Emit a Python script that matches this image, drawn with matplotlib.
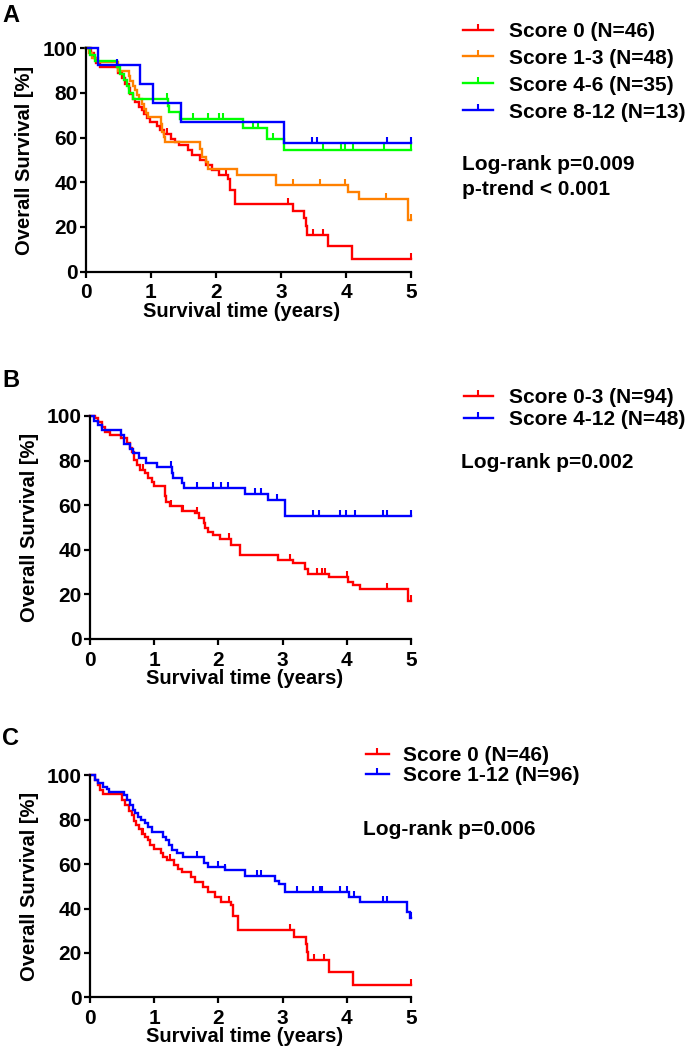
import numpy as np
import matplotlib
matplotlib.use('Agg')
import matplotlib.pyplot as plt
from matplotlib.lines import Line2D

plt.rcParams['font.family'] = ['Liberation Sans', 'DejaVu Sans']
plt.rcParams['font.weight'] = 'bold'

# ---- Kaplan-Meier curves: event times, survival after event, censor times
# Score 0 (N=46), used in A and C
s0_t = [0.08, 0.12, 0.16, 0.21, 0.50, 0.55, 0.60, 0.66, 0.68, 0.72, 0.76, 0.81, 0.86, 0.90,
        0.94, 0.99, 1.10, 1.14, 1.20, 1.31, 1.37, 1.43, 1.57, 1.63, 1.76, 1.84, 1.94, 2.04,
        2.19, 2.22, 2.30, 3.18, 3.36, 3.38, 3.40, 3.72, 4.10]
s0_s = [97.8, 95.7, 93.5, 91.5, 89.0, 86.5, 84.0, 82.0, 79.6, 77.4, 75.9, 73.7, 72.2, 70.7,
        68.8, 67.0, 65.0, 63.3, 61.8, 59.5, 58.0, 56.6, 54.3, 52.1, 49.9, 47.6, 45.4, 43.1,
        41.6, 36.4, 30.2, 27.2, 23.9, 20.3, 16.6, 11.3, 5.7]
s0_c = [0.82, 1.25, 2.16, 3.11, 3.49, 3.64, 5.0]

# Score 1-3 (N=48)
s13_t = [0.05, 0.10, 0.18, 0.49, 0.66, 0.68, 0.72, 0.75, 0.78, 0.82, 0.86, 0.89, 0.92, 0.95,
         1.15, 1.17, 1.20, 1.22, 1.76, 1.78, 1.84, 1.88, 2.32, 2.93, 4.03, 4.20, 4.96]
s13_s = [97.9, 95.8, 93.8, 89.6, 87.5, 85.4, 83.3, 81.3, 79.2, 77.1, 75.0, 72.9, 70.8, 69.0,
         66.0, 62.5, 60.2, 57.9, 54.7, 51.4, 49.1, 46.1, 43.4, 38.7, 35.7, 32.7, 23.0]
s13_c = [3.19, 3.60, 3.98, 4.61, 5.0]

# Score 4-6 (N=35)
s46_t = [0.06, 0.14, 0.48, 0.53, 0.58, 0.63, 0.66, 0.72, 1.26, 1.28, 1.45, 2.42, 2.78, 3.04]
s46_s = [97.1, 94.3, 91.4, 88.6, 85.7, 82.9, 80.0, 77.1, 74.3, 71.4, 68.4, 64.5, 59.3, 54.3]
s46_c = [1.24, 1.64, 1.88, 2.04, 2.11, 2.57, 2.65, 2.88, 3.64, 3.92, 3.98, 4.11, 4.59, 5.0]

# Score 8-12 (N=13)
s812_t = [0.19, 0.83, 1.03, 1.46, 3.04]
s812_s = [92.3, 83.9, 75.5, 67.1, 57.5]
s812_c = [0.47, 3.48, 3.55, 4.63, 5.0]

# Score 0-3 (N=94)
s03_t = [0.08, 0.13, 0.18, 0.23, 0.31, 0.49, 0.57, 0.62, 0.65, 0.69, 0.73, 0.78, 0.86, 0.91,
         0.96, 0.99, 1.17, 1.19, 1.25, 1.43, 1.64, 1.69, 1.77, 1.79, 1.84, 1.92, 2.03, 2.20,
         2.34, 2.93, 3.16, 3.35, 3.39, 3.73, 4.02, 4.10, 4.21, 4.95]
s03_s = [98.9, 97.4, 95.2, 93.0, 91.5, 90.0, 87.7, 85.8, 84.0, 80.3, 78.0, 75.8, 74.3, 72.0,
         70.6, 68.6, 64.0, 61.6, 59.7, 57.5, 56.3, 54.1, 51.9, 49.6, 48.1, 46.6, 44.7, 42.2,
         37.7, 35.3, 34.1, 31.2, 29.2, 27.6, 25.7, 24.2, 22.2, 17.0]
s03_c = [0.82, 1.26, 1.45, 1.66, 2.17, 3.12, 3.53, 3.61, 3.66, 4.00, 4.62, 5.0]

# Score 4-12 (N=48)
s412_t = [0.06, 0.12, 0.18, 0.49, 0.53, 0.62, 0.67, 0.76, 0.87, 1.04, 1.27, 1.29, 1.44, 1.47,
          2.42, 2.78, 3.04]
s412_s = [97.9, 95.8, 93.7, 91.6, 87.4, 85.3, 83.2, 81.1, 79.0, 76.9, 74.6, 72.3, 70.0, 67.6,
          65.0, 62.1, 55.2]
s412_c = [1.26, 1.66, 1.91, 2.04, 2.15, 2.57, 2.66, 2.91, 3.48, 3.57, 3.90, 3.99, 4.13, 4.57,
          4.62, 5.0]

# Score 1-12 (N=96)
s112_t = [0.08, 0.13, 0.21, 0.26, 0.30, 0.535, 0.57, 0.62, 0.675, 0.70, 0.75, 0.80, 0.857,
          0.909, 0.96, 1.14, 1.19, 1.23, 1.28, 1.35, 1.45, 1.77, 1.84, 2.10, 2.41, 2.88, 2.95,
          3.04, 4.04, 4.21, 4.94, 4.99]
s112_s = [97.9, 96.4, 94.9, 93.7, 92.6, 91.1, 88.9, 86.7, 84.4, 82.9, 81.4, 79.9, 78.4, 76.6,
          74.6, 72.4, 70.9, 68.6, 66.4, 64.9, 63.4, 60.4, 58.9, 57.4, 54.6, 52.4, 50.9, 47.3,
          45.4, 43.1, 38.4, 35.5]
s112_c = [1.66, 2.00, 2.10, 2.60, 2.67, 3.23, 3.48, 3.58, 3.62, 3.90, 4.00, 4.11, 4.57, 4.62,
          5.0]

RED, ORANGE, GREEN, BLUE = '#ff0000', '#ff8000', '#00ff00', '#0000ff'

panels = [
    dict(letter='A', rect=[0.1255, 0.742, 0.4745, 0.2122], letter_y=22,
         curves=[('Score 0 (N=46)', s0_t, s0_s, s0_c, RED),
                 ('Score 1-3 (N=48)', s13_t, s13_s, s13_c, ORANGE),
                 ('Score 4-6 (N=35)', s46_t, s46_s, s46_c, GREEN),
                 ('Score 8-12 (N=13)', s812_t, s812_s, s812_c, BLUE)],
         leg=(463, 21.8, 1.44, 0.77, 0.38),
         stats=[(462, 170, 'Log-rank p=0.009'), (462, 195, 'p-trend < 0.001')]),
    dict(letter='B', rect=[0.1314, 0.3932, 0.4686, 0.2118], letter_y=387,
         curves=[('Score 0-3 (N=94)', s03_t, s03_s, s03_c, RED),
                 ('Score 4-12 (N=48)', s412_t, s412_s, s412_c, BLUE)],
         leg=(464, 387.8, 1.38, 0.77, 0.16),
         stats=[(461, 468, 'Log-rank p=0.002')]),
    dict(letter='C', rect=[0.1314, 0.0529, 0.4686, 0.2108], letter_y=745,
         curves=[('Score 0 (N=46)', s0_t, s0_s, s0_c, RED),
                 ('Score 1-12 (N=96)', s112_t, s112_s, s112_c, BLUE)],
         leg=(366, 746, 1.1, 0.67, 0.06),
         stats=[(363, 835, 'Log-rank p=0.006')]),
]

W, H = 685, 1053
fig = plt.figure(figsize=(W / 100, H / 100), dpi=100)

for p in panels:
    ax = fig.add_axes(p['rect'])
    handles = []
    for label, t, s, c, col in p['curves']:
        t = np.asarray(t); s = np.asarray(s); c = np.asarray(c)
        xs = np.concatenate([[0], t, [5]])
        ys = np.concatenate([[100], s, [s[-1]]])
        ax.plot(xs, ys, drawstyle='steps-post', color=col, lw=1.7, clip_on=False,
                solid_joinstyle='miter')
        # censor ticks sit on the curve
        idx = np.searchsorted(t, c, side='right')
        cy = np.concatenate([[100], s])[idx]
        ax.plot(c, cy, ls='none', marker=2, ms=4, mew=1.5, color=col, clip_on=False)
        handles.append(Line2D([], [], color=col, lw=1.7, marker=2, ms=4, mew=1.5, label=label))

    ax.set_xlim(0, 5)
    ax.set_ylim(0, 100)
    ax.set_xticks(range(0, 6))
    ax.set_yticks(range(0, 101, 20))
    for side in ['top', 'right']:
        ax.spines[side].set_visible(False)
    for side in ['left', 'bottom']:
        ax.spines[side].set_linewidth(1.6)
    ax.tick_params(axis='both', length=4.5, width=1.6, labelsize=15, direction='out')
    ax.tick_params(axis='y', pad=1.5)
    ax.tick_params(axis='x', pad=4)
    for lab in ax.get_xticklabels() + ax.get_yticklabels():
        lab.set_fontweight('bold')
    ax.set_xlabel('Survival time (years)', fontsize=14.5, fontweight='bold')
    ax.set_ylabel('Overall Survival [%]', fontsize=14.5, fontweight='bold')
    ax.xaxis.set_label_coords(0.48, -0.135)
    ax.yaxis.set_label_coords(-0.16, 0.5)

    lx, ly, hl, htp, ls = p['leg']
    ax.legend(handles=handles, loc='upper left', bbox_to_anchor=(lx / W, 1 - ly / H),
              bbox_transform=fig.transFigure, frameon=False, borderpad=0, borderaxespad=0,
              handlelength=hl, handletextpad=htp, labelspacing=ls, numpoints=1,
              prop={'size': 15, 'weight': 'bold'})
    for sx, sy, txt in p['stats']:
        fig.text(sx / W, 1 - sy / H, txt, fontsize=15, fontweight='bold', va='baseline')
    fig.text(2 / W, 1 - p['letter_y'] / H, p['letter'], fontsize=17, fontweight='bold',
             va='baseline')

fig.savefig('out.png', dpi=100)
